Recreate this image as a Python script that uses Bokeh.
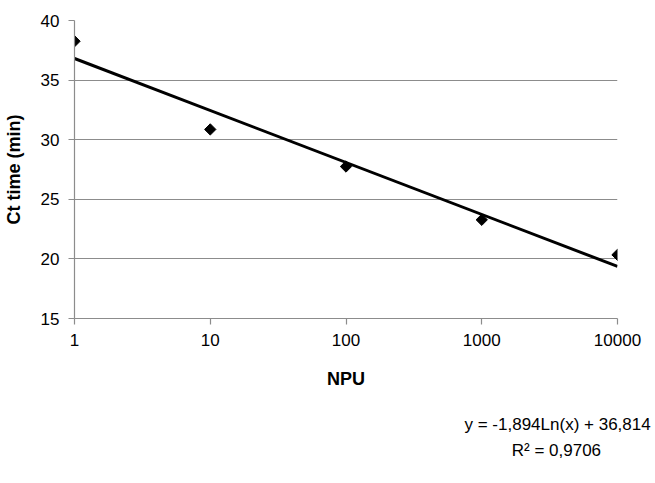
import math
from bokeh.plotting import figure
from bokeh.models import Range1d, FixedTicker, Title
from bokeh.embed import file_html
from bokeh.resources import INLINE

npu = [1, 10, 100, 1000, 10000]
ct_time = [38.26, 30.86, 27.75, 23.28, 20.34]
trend_x = [1, 10000]
trend_y = [36.81, 19.37]
x_ticks = [1, 10, 100, 1000, 10000]
x_tick_labels = ["1", "10", "100", "1000", "10000"]
y_ticks = [15, 20, 25, 30, 35, 40]
equation_lines = ["y = -1,894Ln(x) + 36,814", "R² = 0,9706"]

FONT = "Liberation Sans"

p = figure(width=655, height=483, x_axis_type="log", output_backend="svg",
           toolbar_location=None, x_range=Range1d(1, 10000), y_range=Range1d(15, 40),
           min_border_left=72, min_border_right=38, min_border_top=20,
           min_border_bottom=165)
p.outline_line_color = None
p.background_fill_color = "white"
p.border_fill_color = "white"

p.xgrid.grid_line_color = None
p.ygrid.grid_line_color = "#8c8c8c"
p.ygrid.grid_line_width = 1.2

p.xaxis.ticker = FixedTicker(ticks=x_ticks, minor_ticks=[])
p.xaxis.major_label_overrides = {t: l for t, l in zip(x_ticks, x_tick_labels)}
p.yaxis.ticker = FixedTicker(ticks=y_ticks, minor_ticks=[])

for ax in (p.xaxis, p.yaxis):
    ax.axis_line_color = "#8c8c8c"
    ax.axis_line_width = 1.2
    ax.major_tick_line_color = "#8c8c8c"
    ax.major_tick_line_width = 1.2
    ax.major_tick_in = 0
    ax.major_tick_out = 6
    ax.minor_tick_line_color = None
    ax.major_label_text_font = FONT
    ax.major_label_text_font_size = "17px"
    ax.major_label_text_color = "black"
    ax.axis_label_text_font = FONT
    ax.axis_label_text_font_style = "bold"
    ax.axis_label_text_font_size = "18px"
    ax.axis_label_text_color = "black"

p.xaxis.axis_label = "NPU"
p.xaxis.major_label_standoff = 9
p.xaxis.axis_label_standoff = 20
p.yaxis.axis_label = "Ct time (min)"
p.yaxis.major_label_standoff = 9
p.yaxis.axis_label_standoff = 14

p.line(trend_x, trend_y, line_color="black", line_width=3)
p.scatter(npu, ct_time, marker="square", size=8, angle=math.pi / 4, color="black")

# Trend-line equation under the x axis; the second line is padded with
# no-break spaces so that both lines are centred on each other.
pad = "\u00a0" * 10
eq_text = equation_lines[0] + "\n" + pad + equation_lines[1]
p.add_layout(Title(text=eq_text, align="left", offset=390, standoff=42,
                   text_font=FONT, text_font_size="17px", text_font_style="normal",
                   text_color="black", text_line_height=1.4), "below")

open("out.html", "w").write(file_html(p, INLINE))
